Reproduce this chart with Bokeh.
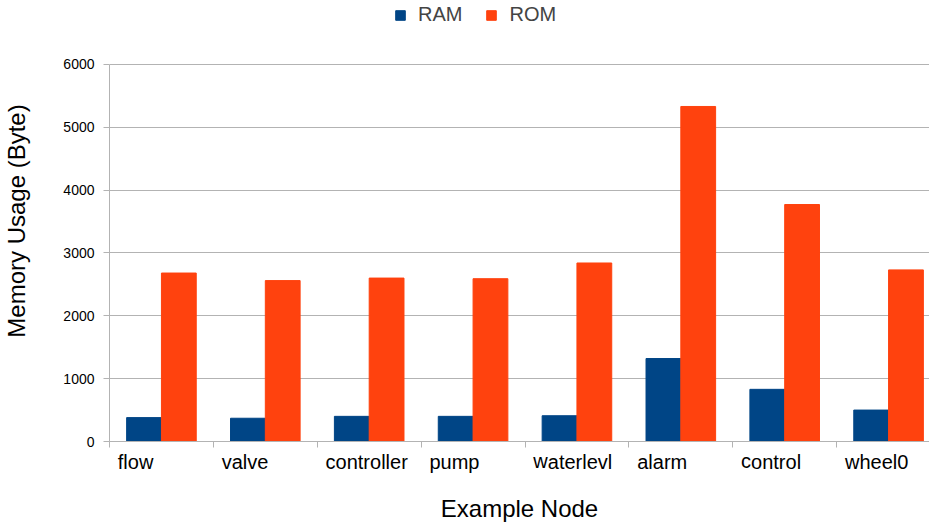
import numpy as np
from bokeh.plotting import figure
from bokeh.models import ColumnDataSource, Range1d, FixedTicker, Legend, LegendItem
from bokeh.transform import dodge
from bokeh.embed import file_html
from bokeh.resources import INLINE

nodes = ["flow", "valve", "controller", "pump", "waterlevl", "alarm", "control", "wheel0"]
ram = [380, 370, 400, 400, 410, 1320, 830, 500]
rom = [2680, 2560, 2600, 2590, 2840, 5330, 3770, 2730]
y_ticks = [0, 1000, 2000, 3000, 4000, 5000, 6000]

FONT = "Liberation Sans"
GRAY = "#b3b3b3"
BLUE = "#004586"
RED = "#ff420e"
BW = 0.335
LABEL_OFF = 0.08          # label start, as a fraction of a category, after its left boundary
Y_TOP = 6000 * 442 / 378  # frame extends up to the page top, so the legend sits inside it

n = len(nodes)
pos = np.arange(n) + 0.5
src = ColumnDataSource(dict(x=pos, node=nodes, ram=ram, rom=rom))

p = figure(width=929, height=524, output_backend="svg", toolbar_location=None,
           x_range=Range1d(0, 7.894), y_range=Range1d(0, Y_TOP),
           min_border_left=108, min_border_right=0, min_border_top=0, min_border_bottom=82)
p.outline_line_color = None

r1 = p.vbar(x=dodge("x", -BW / 2), top="ram", width=BW, source=src,
            fill_color=BLUE, line_color=BLUE)
r2 = p.vbar(x=dodge("x", BW / 2), top="rom", width=BW, source=src,
            fill_color=RED, line_color=RED)

label_ticks = [float(i) + LABEL_OFF for i in range(n)]
xa = p.xaxis[0]
xa.ticker = FixedTicker(ticks=label_ticks, minor_ticks=[float(i) for i in range(n + 1)])
xa.major_label_overrides = {t: s for t, s in zip(label_ticks, nodes)}
xa.major_label_orientation = -1e-6
xa.major_tick_out = 0
xa.major_tick_in = 0
xa.minor_tick_out = 6
xa.minor_tick_in = 0
xa.minor_tick_line_color = GRAY
xa.axis_line_color = GRAY
xa.major_label_text_font = FONT
xa.major_label_text_font_size = "20px"
xa.major_label_text_color = "#000000"
xa.major_label_standoff = 14
xa.axis_label = "Example Node"
xa.axis_label_text_font = FONT
xa.axis_label_text_font_size = "24px"
xa.axis_label_text_font_style = "normal"
xa.axis_label_text_color = "#000000"
xa.axis_label_standoff = 8

ya = p.yaxis[0]
ya.ticker = FixedTicker(ticks=y_ticks, minor_ticks=[])
ya.bounds = (0, 6000)
ya.major_tick_out = 6
ya.major_tick_in = 0
ya.major_tick_line_color = GRAY
ya.axis_line_color = GRAY
ya.major_label_text_font = FONT
ya.major_label_text_font_size = "14px"
ya.major_label_text_color = "#000000"
ya.major_label_standoff = 9
ya.axis_label = "Memory Usage (Byte)"
ya.axis_label_text_font = FONT
ya.axis_label_text_font_size = "24px"
ya.axis_label_text_font_style = "normal"
ya.axis_label_text_color = "#000000"
ya.axis_label_standoff = 30

p.xgrid.visible = False
p.ygrid.ticker = FixedTicker(ticks=y_ticks)
p.ygrid.grid_line_color = GRAY

legend = Legend(items=[LegendItem(label="RAM", renderers=[r1]),
                       LegendItem(label="ROM", renderers=[r2])],
                orientation="horizontal", location=(285, 415),
                glyph_width=12, glyph_height=12, label_standoff=12, spacing=23,
                padding=0, margin=0, border_line_color=None, background_fill_alpha=0,
                label_text_font=FONT, label_text_font_size="20px")
p.add_layout(legend, "center")

open("out.html", "w").write(file_html(p, INLINE))
